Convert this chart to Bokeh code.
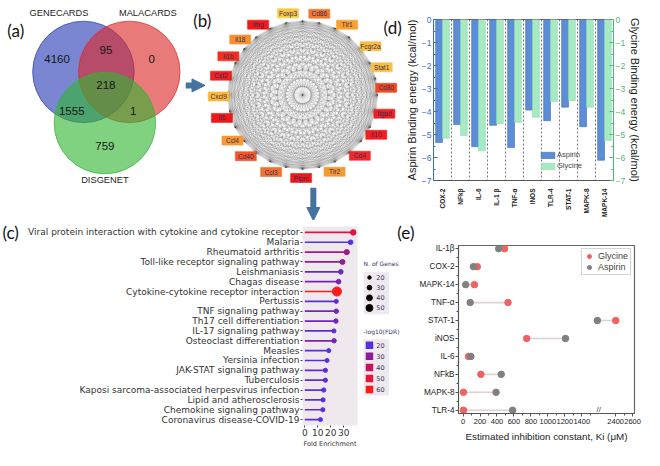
import math
from itertools import combinations
from bokeh.plotting import figure
from bokeh.layouts import row, column
from bokeh.models import (Range1d, FactorRange, LinearAxis, FixedTicker, SingleIntervalTicker,
                          Arrow, NormalHead, Legend, LegendItem, ColumnDataSource)
from bokeh.transform import dodge, linear_cmap
from bokeh.core.properties import value
from bokeh.embed import file_html
from bokeh.resources import INLINE

# ------------------------------------------------------------------ data
# (a) Venn diagram
venn_sets = ["GENECARDS", "MALACARDS", "DISGENET"]
venn_regions = ["G only", "G&M", "M only", "G&M&D", "G&D", "M&D", "D only"]
venn_counts = [4160, 95, 0, 218, 1555, 1, 759]

# (b) network genes
network_genes = ["Ifng", "Foxp3", "Cd86", "Tlr1", "Fcgr2a", "Stat1", "Cd80", "Itgad", "Il10", "Cd4",
                 "Tlr2", "Ptprc", "Ccl3", "Cd40", "Ccl4", "Il6", "Cxcl9", "Csf2", "Il1b", "Il18"]

# (c) KEGG enrichment
pathways = ["Viral protein interaction with cytokine and cytokine receptor", "Malaria",
            "Rheumatoid arthritis", "Toll-like receptor signaling pathway", "Leishmaniasis",
            "Chagas disease", "Cytokine-cytokine receptor interaction", "Pertussis",
            "TNF signaling pathway", "Th17 cell differentiation", "IL-17 signaling pathway",
            "Osteoclast differentiation", "Measles", "Yersinia infection",
            "JAK-STAT signaling pathway", "Tuberculosis",
            "Kaposi sarcoma-associated herpesvirus infection", "Lipid and atherosclerosis",
            "Chemokine signaling pathway", "Coronavirus disease-COVID-19"]
fold_enrichment = [37.4, 35.4, 32.4, 29.1, 27.8, 26.1, 24.8, 24.3, 24.3, 24.0,
                   22.5, 22.6, 18.5, 17.2, 15.9, 15.9, 14.6, 14.1, 13.9, 12.1]
n_genes = [38, 30, 35, 33, 30, 30, 68, 25, 28, 28, 25, 28, 25, 25, 26, 26, 27, 26, 26, 24]
neg_log10_fdr = [46, 20, 33, 31, 23, 27, 62, 21, 25, 25, 21, 26, 20, 20, 22, 22, 21, 21, 22, 20]
size_legend_values = [20, 30, 40, 50]
fdr_legend_values = [20, 30, 40, 50, 60]

# (d) docking binding energies (kcal/mol)
targets_d = ["COX-2", "NFkβ", "IL-6", "IL-1 β", "TNF-α", "iNOS", "TLR-4", "STAT-1", "MAPK-8", "MAPK-14"]
aspirin_energy = [-5.35, -4.57, -5.53, -4.60, -5.57, -3.94, -4.40, -3.81, -4.66, -6.12]
glycine_energy = [-5.16, -5.04, -5.71, -4.52, -4.47, -4.25, -3.57, -3.53, -3.81, -5.26]

# (e) estimated inhibition constants (µM)
targets_e = ["IL-1β", "COX-2", "MAPK-14", "TNF-α", "STAT-1", "iNOS", "IL-6", "NFkB", "MAPK-8", "TLR-4"]
ki_glycine = [490, 168, 134, 530, 2400, 750, 65, 210, 5, 5]
ki_aspirin = [420, 122, 31, 84, 1584, 1208, 92, 450, 389, 584]
ki_ticks = [0, 200, 400, 600, 800, 1000, 1200, 1400, 2400, 2600]

# ------------------------------------------------------------------ styles
ARIAL = "Liberation Sans"
DEJA = "DejaVu Sans"
TAG = "Lato"
SX = 644 / 660   # page px per reference px (x)


def canvas(w, h, x0, y0, y1):
    p = figure(width=w, height=h, output_backend="svg", toolbar_location=None, title=None,
               x_range=Range1d(x0, x0 + w / SX), y_range=Range1d(y1, y0),
               x_axis_type=None, y_axis_type=None)
    p.min_border_left = p.min_border_right = p.min_border_top = p.min_border_bottom = 0
    p.outline_line_color = None
    return p


def tag(p, x, y, txt):
    p.text(x=[x], y=[y], text=[txt], text_font=value(TAG), text_font_size="17px",
           text_color="#111111", text_align="left", text_baseline="middle")


def box(p):
    return column(p)


# ------------------------------------------------------------------ (a)
pa = canvas(185, 220, 0, 0, 228)
venn_center = [(85, 74), (132, 74), (107, 127)]
venn_fill = ["#283cb4", "#dc2828", "#32b432"]
pa.circle(x=[c[0] for c in venn_center], y=[c[1] for c in venn_center], radius=52,
          fill_color=venn_fill, fill_alpha=0.62, line_color=venn_fill, line_alpha=0.7, line_width=1)
count_pos = [(58, 61), (108, 51), (155, 61), (108, 88), (73, 114), (136, 115), (107, 151)]
pa.text(x=[c[0] for c in count_pos], y=[c[1] for c in count_pos], text=[str(v) for v in venn_counts],
        text_font=value(ARIAL), text_font_size="11.5px", text_color="#151515",
        text_align="center", text_baseline="middle")
name_pos = [(60, 13), (151, 13), (107, 186)]
pa.text(x=[c[0] for c in name_pos], y=[c[1] for c in name_pos], text=venn_sets,
        text_font=value(ARIAL), text_font_size="9.3px", text_color="#222222",
        text_align="center", text_baseline="middle")
tag(pa, 7, 31, "(a)")

# ------------------------------------------------------------------ (b)
pb = canvas(217, 220, 190, 0, 228)
cx, cy = 310, 98
ring_n, ring_r = 28, 77
ring = [(cx + ring_r * math.sin(2 * math.pi * k / ring_n), cy - ring_r * math.cos(2 * math.pi * k / ring_n))
        for k in range(ring_n)]
e0, e1 = zip(*combinations(range(ring_n), 2))
pb.segment(x0=[ring[i][0] for i in e0], y0=[ring[i][1] for i in e0],
           x1=[ring[j][0] for j in e1], y1=[ring[j][1] for j in e1],
           line_color="#333333", line_alpha=0.3, line_width=0.5)
node_angle = [-32, -10, 11.5, 32, 54, 70.5, 85, 103, 118.6, 137, 157.6, 181, 202, 222.6,
              236.7, 254, 269, 283.5, 297.8, 312]
node_color = ["#f01818", "#f8c840", "#f07830", "#f8a030", "#f8c040", "#f8c040", "#f04820", "#f02020",
              "#f02020", "#f02828", "#f89830", "#f01818", "#f07030", "#f05828", "#f89830", "#f01818",
              "#f8b838", "#f02020", "#f03020", "#f89030"]
node_r = 86
nx = [cx + node_r * math.sin(math.radians(a)) for a in node_angle]
ny = [cy - node_r * math.cos(math.radians(a)) for a in node_angle]
pb.rect(x=nx, y=ny, width=21, height=9, width_units="screen", height_units="screen",
        fill_color=node_color, line_color=node_color, line_alpha=0.6)
pb.text(x=nx, y=ny, text=network_genes, text_font=value(ARIAL), text_font_size="6.5px",
        text_color="#3a2a5a", text_align="center", text_baseline="middle")
arrow_col = "#45739f"
pb.add_layout(Arrow(end=NormalHead(size=13, fill_color=arrow_col, line_color=arrow_col),
                    x_start=190, y_start=88, x_end=210, y_end=88, line_color=arrow_col, line_width=6))
pb.add_layout(Arrow(end=NormalHead(size=13, fill_color=arrow_col, line_color=arrow_col),
                    x_start=321, y_start=194, x_end=321, y_end=228, line_color=arrow_col, line_width=6))
tag(pb, 198, 21, "(b)")
tag(pb, 393, 28, "(d)")

# ------------------------------------------------------------------ (d)
pd_ = figure(width=242, height=220, output_backend="svg", toolbar_location=None,
             x_range=FactorRange(factors=targets_d), y_range=Range1d(-7, 0))
pd_.min_border_left, pd_.min_border_right, pd_.min_border_top, pd_.min_border_bottom = 29, 31, 19, 29
src_d = ColumnDataSource(dict(target=targets_d, aspirin=aspirin_energy, glycine=glycine_energy))
pd_.vbar(x=dodge("target", -0.19, range=pd_.x_range), top=0, bottom="aspirin", width=0.38,
         source=src_d, fill_color="#5b8ed6", line_color="#3f6db4", line_width=0.6, legend_label="Aspirin")
pd_.vbar(x=dodge("target", 0.19, range=pd_.x_range), top=0, bottom="glycine", width=0.38,
         source=src_d, fill_color="#a6eac4", line_color="#8ed8ae", line_width=0.6, legend_label="Glycine")
src_sep = ColumnDataSource(dict(target=targets_d[:-1]))
pd_.segment(x0=dodge("target", 0.5, range=pd_.x_range), x1=dodge("target", 0.5, range=pd_.x_range),
            y0=0, y1=-7, source=src_sep, line_color="#555555", line_dash="2 2", line_width=0.8)
pd_.grid.visible = False
pd_.outline_line_color = "#666666"
pd_.yaxis.ticker = SingleIntervalTicker(interval=1, num_minor_ticks=2)
pd_.yaxis.axis_label = "Aspirin Binding energy (kcal/mol)"
yl = pd_.yaxis[0]
yr_ax = LinearAxis(axis_label="Glycine Binding energy (kcal/mol)",
                   ticker=SingleIntervalTicker(interval=1, num_minor_ticks=2))
pd_.add_layout(yr_ax, "right")
for ax, col in ((yl, "#3f6cc0"), (yr_ax, "#4fb477")):
    ax.axis_line_color = col
    ax.major_tick_line_color = col
    ax.minor_tick_line_color = col
    ax.major_tick_in, ax.major_tick_out = 4, 0
    ax.minor_tick_in, ax.minor_tick_out = 2, 0
    ax.major_label_text_color = col
    ax.major_label_text_font = ARIAL
    ax.major_label_text_font_size = "8.5px"
    ax.major_label_standoff = 2
    ax.axis_label_text_font = ARIAL
    ax.axis_label_text_font_size = "11px"
    ax.axis_label_text_font_style = "normal"
    ax.axis_label_text_color = "#222222"
    ax.axis_label_standoff = 1
xa = pd_.xaxis[0]
xa.major_label_orientation = math.pi / 2
xa.major_label_text_font = ARIAL
xa.major_label_text_font_size = "6.5px"
xa.major_label_text_font_style = "bold"
xa.major_label_text_color = "#222222"
xa.major_tick_line_color = None
xa.axis_line_color = "#555555"
xa.major_label_standoff = 2
lg = pd_.legend[0]
lg.location = (106, 10)
lg.background_fill_alpha = 0
lg.border_line_color = None
lg.padding, lg.margin, lg.spacing = 0, 0, 2
lg.glyph_width, lg.glyph_height, lg.label_height = 17, 8, 8
lg.label_standoff = 1
lg.label_text_font = ARIAL
lg.label_text_font_size = "7.5px"

# ------------------------------------------------------------------ (c)
fdr_anchor = ["#5530e0", "#8e1c9a", "#c41560", "#e5173a", "#ff1a1a"]


def _rgb(h):
    return [int(h[i:i + 2], 16) for i in (1, 3, 5)]


fdr_palette = []
for k in range(41):
    t = k / 40 * 4
    i = min(int(t), 3)
    f = t - i
    a, b = _rgb(fdr_anchor[i]), _rgb(fdr_anchor[i + 1])
    fdr_palette.append("#%02x%02x%02x" % tuple(round(a[j] + (b[j] - a[j]) * f) for j in range(3)))
fdr_cmap = linear_cmap("fdr", fdr_palette, 20, 60)


def dot_size(n):
    return 1.2 + 0.115 * n


ptag_c = canvas(21, 230, 0, 228, 466)
tag(ptag_c, 2, 240, "(c)")

nrow = len(pathways)
ypos_c = [nrow - 1 - i for i in range(nrow)]
pc = figure(width=339, height=230, output_backend="svg", toolbar_location=None,
            x_range=Range1d(-1.8, 40.7), y_range=Range1d(-0.6, nrow - 0.4))
pc.min_border_left, pc.min_border_right, pc.min_border_top, pc.min_border_bottom = 281, 3, 6, 22
pc.background_fill_color = "#efe9ee"
pc.outline_line_color = None
pc.grid.visible = False
src_c = ColumnDataSource(dict(name=pathways, fe=fold_enrichment, y=ypos_c, fdr=neg_log10_fdr,
                              size=[dot_size(n) for n in n_genes]))
pc.segment(x0=0, y0="y", x1="fe", y1="y", line_color=fdr_cmap, line_width=1.7, source=src_c)
pc.scatter(x="fe", y="y", size="size", fill_color=fdr_cmap, line_color=fdr_cmap, source=src_c)
pc.yaxis.ticker = FixedTicker(ticks=ypos_c)
pc.yaxis.major_label_overrides = {y: n for y, n in zip(ypos_c, pathways)}
pc.xaxis.ticker = FixedTicker(ticks=[0, 10, 20, 30])
pc.xaxis.axis_label = "Fold Enrichment"
for ax in (pc.xaxis[0], pc.yaxis[0]):
    ax.axis_line_color = None
    ax.major_tick_line_color = "#444444"
    ax.major_tick_out, ax.major_tick_in = 2, 0
    ax.minor_tick_line_color = None
    ax.major_label_text_font = DEJA
    ax.major_label_text_font_size = "9px"
    ax.major_label_text_color = "#333333"
    ax.major_label_standoff = 1
pc.xaxis.axis_label_text_font = DEJA
pc.xaxis.axis_label_text_font_size = "6.5px"
pc.xaxis.axis_label_text_font_style = "normal"
pc.xaxis.axis_label_text_color = "#333333"
pc.xaxis.axis_label_standoff = 1

# legend of (c) + tag (e)
pl = canvas(56, 230, 368.8, 228, 466)
pl.quad(left=[372, 372], right=[398, 398], top=[281, 351], bottom=[325, 409],
        fill_color="#efe9ee", line_color=None)
leg_txt = "#333366"
pl.text(x=[372, 372], y=[273, 343], text=["N. of Genes", "-log10(FDR)"], text_font=value(DEJA),
        text_font_size="6px", text_color=leg_txt, text_align="left", text_baseline="middle")
size_y = [287, 297.5, 308, 318.5]
pl.scatter(x=[378] * 4, y=size_y, size=[dot_size(v) for v in size_legend_values],
           fill_color="#000000", line_color="#000000")
pl.text(x=[385] * 4, y=size_y, text=[str(v) for v in size_legend_values], text_font=value(DEJA),
        text_font_size="6.5px", text_color=leg_txt, text_align="left", text_baseline="middle")
fdr_y = [357, 368.5, 380, 391.5, 403]
src_fl = ColumnDataSource(dict(x=[378] * 5, y=fdr_y, fdr=fdr_legend_values))
pl.scatter(x="x", y="y", marker="square", size=7.5, fill_color=fdr_cmap, line_color=None, source=src_fl)
pl.text(x=[385] * 5, y=fdr_y, text=[str(v) for v in fdr_legend_values], text_font=value(DEJA),
        text_font_size="6.5px", text_color=leg_txt, text_align="left", text_baseline="middle")
tag(pl, 406.5, 240, "(e)")

# ------------------------------------------------------------------ (e)
BREAK_LO, BREAK_HI = 1600, 2200


def on_broken_axis(v):
    return v if v <= BREAK_LO else v - (BREAK_HI - BREAK_LO)


ne = len(targets_e)
ypos_e = [ne - 1 - i for i in range(ne)]
pe = figure(width=228, height=230, output_backend="svg", toolbar_location=None,
            x_range=Range1d(-54, 2022), y_range=Range1d(-0.18, ne - 1 + 0.18))
pe.min_border_left, pe.min_border_right, pe.min_border_top, pe.min_border_bottom = 41, 10, 25, 37
pe.grid.visible = False
pe.outline_line_color = "#666666"
pe.outline_line_width = 1.2
src_e = ColumnDataSource(dict(y=ypos_e, gly=[on_broken_axis(v) for v in ki_glycine],
                              asp=[on_broken_axis(v) for v in ki_aspirin]))
pe.segment(x0="gly", y0="y", x1="asp", y1="y", line_color="#e3cfd2", line_width=1.6, source=src_e)
r_gly = pe.scatter(x="gly", y="y", size=6.5, fill_color="#f06262", line_color="#f06262", source=src_e)
r_asp = pe.scatter(x="asp", y="y", size=6.5, fill_color="#808080", line_color="#808080", source=src_e)
pe.text(x=[BREAK_LO], y=[-0.18], text=["//"], text_font=value(ARIAL), text_font_size="8px",
        text_color="#444444", text_align="center", text_baseline="bottom")
tick_disp = [on_broken_axis(t) for t in ki_ticks]
minor_disp = [d + 100 for d in tick_disp[:-1]]
pe.xaxis.ticker = FixedTicker(ticks=tick_disp, minor_ticks=minor_disp)
pe.xaxis.major_label_overrides = {d: str(t) for d, t in zip(tick_disp, ki_ticks)}
pe.xaxis.axis_label = "Estimated inhibition constant, Ki (μM)"
pe.yaxis.ticker = FixedTicker(ticks=ypos_e, minor_ticks=[y + 0.5 for y in ypos_e[1:]])
pe.yaxis.major_label_overrides = {y: n for y, n in zip(ypos_e, targets_e)}
for ax in (pe.xaxis[0], pe.yaxis[0]):
    ax.axis_line_color = "#555555"
    ax.major_tick_line_color = "#555555"
    ax.minor_tick_line_color = "#555555"
    ax.major_tick_out, ax.major_tick_in = 3, 0
    ax.minor_tick_out, ax.minor_tick_in = 2, 0
    ax.major_label_text_font = ARIAL
    ax.major_label_text_color = "#222222"
    ax.major_label_standoff = 2
pe.yaxis.major_label_text_font_size = "8.2px"
pe.yaxis.major_label_standoff = 1
pe.xaxis.major_label_text_font_size = "7.5px"
pe.xaxis.axis_label_text_font = ARIAL
pe.xaxis.axis_label_text_font_size = "9.8px"
pe.xaxis.axis_label_text_font_style = "normal"
pe.xaxis.axis_label_text_color = "#222222"
pe.xaxis.axis_label_standoff = 4
leg_e = Legend(items=[LegendItem(label="Glycine", renderers=[r_gly]),
                      LegendItem(label="Aspirin", renderers=[r_asp])],
               location="top_right", label_text_font=ARIAL, label_text_font_size="9px",
               glyph_width=10, glyph_height=10, label_height=10, spacing=1, padding=2, margin=3,
               label_standoff=4, border_line_color="#aaaaaa", background_fill_color="white")
pe.add_layout(leg_e)

layout = column(row(box(pa), box(pb), box(pd_)),
                row(box(ptag_c), box(pc), box(pl), box(pe)))
open("out.html", "w").write(file_html(layout, INLINE))
